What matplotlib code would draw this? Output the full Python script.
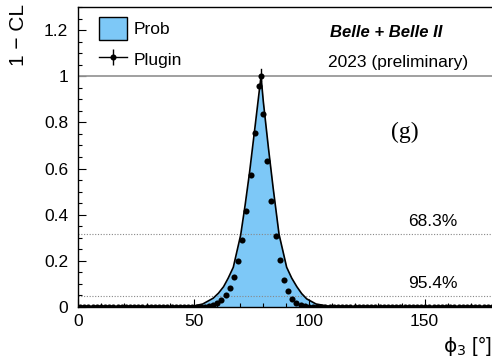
import matplotlib
matplotlib.use("Agg")
import matplotlib.pyplot as plt
import numpy as np
from matplotlib.patches import Patch
from matplotlib.lines import Line2D
from matplotlib.ticker import MultipleLocator

plt.rcParams['font.family'] = ['Liberation Sans', 'DejaVu Sans']
plt.rcParams['mathtext.fontset'] = 'dejavusans'

# Prob curve (1 - CL vs phi3)
prob_x = [0, 40, 45, 50, 54, 58.5, 60.8, 63, 65, 67.2, 70.4, 72.3, 74.2, 76.6, 79.2,
          80.2, 82.4, 84.4, 87.0, 90.3, 92.5, 94.7, 96.8, 99.0, 103, 108, 115, 180]
prob_y = [0, 0, 0.001, 0.004, 0.013, 0.038, 0.06, 0.088, 0.125, 0.172, 0.312, 0.44, 0.58, 0.78, 1.0,
          0.89, 0.69, 0.52, 0.315, 0.172, 0.125, 0.088, 0.058, 0.035, 0.013, 0.004, 0, 0]

# Plugin scan, one point per 1.8 deg bin
plugin_x = np.arange(0.9, 180, 1.8)
plugin_y = [0.0] * 30 + [
    0.002, 0.004, 0.008, 0.016, 0.030, 0.050, 0.081, 0.130, 0.198, 0.289,
    0.416, 0.571, 0.756, 0.958, 0.838, 0.632, 0.460, 0.309, 0.203, 0.118,
    0.071, 0.036, 0.019, 0.008, 0.003] + [0.0] * 45
best_x, best_y = 79.2, 1.0

cl_levels = [0.317, 0.046]
cl_labels = ['68.3%', '95.4%']

fill_col = '#7dc8f7'

fig = plt.figure(figsize=(4.92, 3.61), dpi=100)
ax = fig.add_axes([0.1585, 0.1496, 0.8455, 0.831])

ax.fill_between(prob_x, prob_y, 0, color=fill_col, lw=0, zorder=1)
ax.plot(prob_x, prob_y, color='black', lw=1.2, zorder=3)

ax.plot(plugin_x, plugin_y, 'o', color='black', ms=4.4, mew=0, zorder=4)
ax.plot([best_x], [best_y], 'o', color='black', ms=4.4, mew=0, zorder=4)
ax.plot([best_x, best_x], [best_y - 0.02, best_y + 0.03], color='black', lw=1.0, zorder=4)

ax.axhline(1.0, color='#999999', lw=1.3, zorder=2)
for lev, lab in zip(cl_levels, cl_labels):
    ax.axhline(lev, color='#888888', lw=0.8, ls=(0, (1, 1.5)), zorder=2)
    ax.text(143, lev + 0.022, lab, fontsize=12.5, ha='left', va='bottom')

ax.set_xlim(0, 180)
ax.set_ylim(0, 1.3)
ax.xaxis.set_major_locator(MultipleLocator(50))
ax.xaxis.set_minor_locator(MultipleLocator(10))
ax.yaxis.set_major_locator(MultipleLocator(0.2))
ax.yaxis.set_minor_locator(MultipleLocator(0.05))
ax.set_yticks([0, 0.2, 0.4, 0.6, 0.8, 1.0, 1.2])
ax.set_yticklabels(['0', '0.2', '0.4', '0.6', '0.8', '1', '1.2'])
ax.tick_params(which='both', direction='in', labelsize=12.5, top=False, right=False)
ax.tick_params(which='major', length=6, width=0.8)
ax.tick_params(which='minor', length=3, width=0.8)
ax.tick_params(axis='y', pad=7)
ax.tick_params(axis='x', pad=5)
for s in ax.spines.values():
    s.set_linewidth(1.0)

fig.text(19 / 492, 1 - 4 / 361, '1 \u2212 CL', rotation=90, ha='center', va='top', fontsize=15)
fig.text(443 / 492, 3 / 361, r'$\mathrm{\phi}_\mathrm{3}$ [°]', ha='left', va='bottom', fontsize=14.5)

ax.text(0.605, 0.915, 'Belle + Belle II', transform=ax.transAxes, fontsize=12,
        fontweight='bold', fontstyle='italic', ha='left', va='center')
ax.text(0.6, 0.815, '2023 (preliminary)', transform=ax.transAxes, fontsize=12.5,
        ha='left', va='center')
ax.text(141.6, 0.755, '(g)', fontsize=17, family='Liberation Serif', ha='center', va='center')

plugin_handle = (Line2D([], [], color='black', lw=1.0, marker='o', ms=4.4, mew=0),
                 Line2D([], [], color='black', ls='none', marker='|', ms=11, mew=1.0))
ax.legend([Patch(facecolor=fill_col, edgecolor='black', lw=1.0), plugin_handle],
          ['Prob', 'Plugin'], loc='upper left', bbox_to_anchor=(0.025, 1.0),
          frameon=False, fontsize=12.5, handlelength=1.6, handleheight=1.6,
          handletextpad=0.4, labelspacing=0.5, borderaxespad=0.2)

fig.savefig('out.png', dpi=100)
